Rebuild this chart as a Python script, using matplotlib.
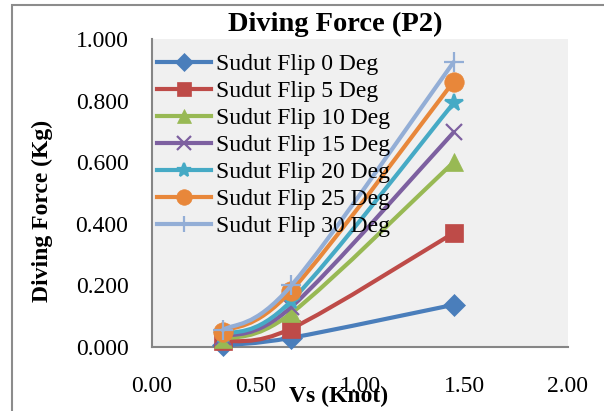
import matplotlib
import matplotlib.pyplot as plt
from matplotlib.lines import Line2D
from matplotlib.patches import PathPatch, Rectangle
from matplotlib.path import Path

matplotlib.use("Agg")

# =========================
# Data
# =========================
vs = [0.34, 0.67, 1.45]

labels = [
    "Sudut Flip 0 Deg",
    "Sudut Flip 5 Deg",
    "Sudut Flip 10 Deg",
    "Sudut Flip 15 Deg",
    "Sudut Flip 20 Deg",
    "Sudut Flip 25 Deg",
    "Sudut Flip 30 Deg",
]
flip_0 = [0.005, 0.030, 0.137]
flip_5 = [0.018, 0.060, 0.370]
flip_10 = [0.025, 0.110, 0.600]
flip_15 = [0.033, 0.130, 0.697]
flip_20 = [0.040, 0.150, 0.792]
flip_25 = [0.050, 0.183, 0.862]
flip_30 = [0.055, 0.200, 0.925]
series = [flip_0, flip_5, flip_10, flip_15, flip_20, flip_25, flip_30]

x_ticks = [0.0, 0.5, 1.0, 1.5, 2.0]
y_ticks = [0.0, 0.2, 0.4, 0.6, 0.8, 1.0]

# =========================
# Style
# =========================
colors = ["#4A7EBB", "#BE4B48", "#98B954", "#7D60A0", "#46AAC5", "#E8873A", "#93AED6"]
markers = ["D", "s", "^", "x", "*", "o", "+"]
msizes = [11, 13, 13, 12, 13, 14, 15]
LW = 3.0


def smooth_path(xs, ys):
    # linea suavizada tipo Excel: segmentos Catmull-Rom como Bezier cubica
    pts = list(zip(xs, ys))
    verts = [pts[0]]
    codes = [Path.MOVETO]
    n = len(pts)
    for i in range(n - 1):
        p0 = pts[max(i - 1, 0)]
        p1 = pts[i]
        p2 = pts[i + 1]
        p3 = pts[min(i + 2, n - 1)]
        c1 = (p1[0] + (p2[0] - p0[0]) / 6, p1[1] + (p2[1] - p0[1]) / 6)
        c2 = (p2[0] - (p3[0] - p1[0]) / 6, p2[1] - (p3[1] - p1[1]) / 6)
        verts += [c1, c2, p2]
        codes += [Path.CURVE4] * 3
    return Path(verts, codes)


plt.rcParams["font.family"] = ["Liberation Serif", "DejaVu Serif"]

fig = plt.figure(figsize=(6.04, 4.11), dpi=100)
fig.patches.append(Rectangle((12 / 604, -0.1), 1.2, 1 - 5 / 411 + 0.1,
                             transform=fig.transFigure, fill=False,
                             edgecolor="#8C8C8C", linewidth=1.5))

ax = fig.add_axes([152 / 604, 1 - 347 / 411, 416 / 604, 308 / 411])
ax.set_facecolor("#F0F0F0")

handles = []
for k, (vals, lab, c, m, ms) in enumerate(zip(series, labels, colors, markers, msizes)):
    mew = 1.6 if m in ("x", "*", "+") else 0.5
    ax.add_patch(PathPatch(smooth_path(vs, vals), fill=False, edgecolor=c,
                           linewidth=LW, capstyle="round", joinstyle="round",
                           zorder=2 + k * 0.1))
    ax.plot(vs, vals, linestyle="none", marker=m, markersize=ms, color=c,
            markeredgewidth=mew, markeredgecolor=c, zorder=2.05 + k * 0.1,
            clip_on=False)
    handles.append(Line2D([], [], color=c, linewidth=LW, marker=m,
                          markersize=ms * 0.8, markeredgewidth=mew,
                          markeredgecolor=c, label=lab))

ax.set_xlim(0, 2)
ax.set_ylim(0, 1)
ax.set_xticks(x_ticks)
ax.set_xticklabels([f"{t:.2f}" for t in x_ticks], fontsize=17)
ax.set_yticks(y_ticks)
ax.set_yticklabels([f"{t:.3f}" for t in y_ticks], fontsize=17)
ax.tick_params(axis="both", length=0)
ax.tick_params(axis="x", pad=21)
ax.tick_params(axis="y", pad=17)

for side in ("top", "right"):
    ax.spines[side].set_visible(False)
for side in ("left", "bottom"):
    ax.spines[side].set_color("#868686")
    ax.spines[side].set_linewidth(1.5)
    ax.spines[side].set_zorder(1.5)

fig.text(335 / 604, 1 - 24 / 411, "Diving Force (P2)", ha="center", va="center",
         fontsize=20.5, fontweight="bold")
fig.text(42 / 604, 1 - 211 / 411, "Diving Force (Kg)", ha="center", va="center",
         rotation=90, fontsize=17, fontweight="bold")
fig.text(339 / 604, 1 - 396 / 411, "Vs (Knot)", ha="center", va="center",
         fontsize=17, fontweight="bold")

leg = ax.legend(handles=handles, loc="upper left", bbox_to_anchor=(0.0, 0.968),
                frameon=False, fontsize=17, handlelength=2.3, handletextpad=0.2,
                labelspacing=0.23, borderaxespad=0.1, borderpad=0.1)
leg.set_zorder(5)

fig.savefig("out.png", dpi=100)
